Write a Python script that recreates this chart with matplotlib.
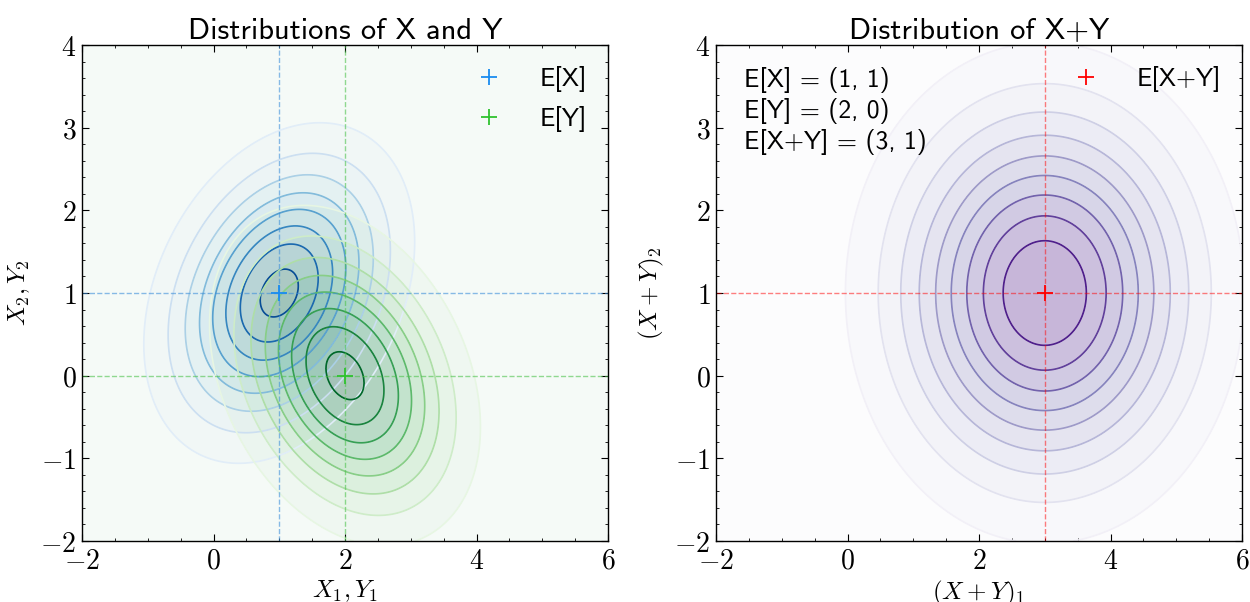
import matplotlib
matplotlib.use("Agg")
import matplotlib.pyplot as plt
import numpy as np
from matplotlib.ticker import AutoMinorLocator, FuncFormatter

# distribution parameters
MEAN_X = [1.0, 1.0]
MEAN_Y = [2.0, 0.0]
COV_X = [[1.0, 0.3], [0.3, 1.0]]
COV_Y = [[1.0, -0.3], [-0.3, 1.0]]
MEAN_SUM = [3.0, 1.0]
COV_SUM = [[2.0, 0.0], [0.0, 2.0]]

X_TICKS = [-2, 0, 2, 4, 6]
Y_TICKS = [-2, -1, 0, 1, 2, 3, 4]
MEAN_TEXT = ["E[X] = (1, 1)", "E[Y] = (2, 0)", "E[X+Y] = (3, 1)"]

plt.rcParams["mathtext.fontset"] = "cm"
SANS = "cmss10"


def gauss(xx, yy, mean, cov):
    cov = np.asarray(cov)
    inv = np.linalg.inv(cov)
    dx = xx - mean[0]
    dy = yy - mean[1]
    q = inv[0, 0] * dx**2 + 2 * inv[0, 1] * dx * dy + inv[1, 1] * dy**2
    return np.exp(-0.5 * q) / (2 * np.pi * np.sqrt(np.linalg.det(cov)))


def style_axes(ax):
    ax.set_xlim(X_TICKS[0], X_TICKS[-1])
    ax.set_ylim(Y_TICKS[0], Y_TICKS[-1])
    ax.set_xticks(X_TICKS)
    ax.set_yticks(Y_TICKS)
    fmt = FuncFormatter(lambda v, p: f"${v:g}$")
    ax.xaxis.set_major_formatter(fmt)
    ax.yaxis.set_major_formatter(fmt)
    ax.xaxis.set_minor_locator(AutoMinorLocator())
    ax.yaxis.set_minor_locator(AutoMinorLocator())
    ax.tick_params(which="both", direction="in", top=True, right=True, labelsize=20)
    ax.tick_params(which="major", length=5, width=0.8, pad=4)
    ax.tick_params(which="minor", length=2.5, width=0.6)
    for s in ax.spines.values():
        s.set_linewidth(1.0)


gx = np.linspace(-2, 6, 500)
gy = np.linspace(-2, 4, 400)
xx, yy = np.meshgrid(gx, gy)
zx = gauss(xx, yy, MEAN_X, COV_X)
zy = gauss(xx, yy, MEAN_Y, COV_Y)
zs = gauss(xx, yy, MEAN_SUM, COV_SUM)

fig = plt.figure(figsize=(12.5, 6.02), dpi=100)
ax1 = fig.add_axes([0.0656, 0.1013, 0.4208, 0.8239])
ax2 = fig.add_axes([0.5728, 0.1013, 0.4208, 0.8239])

# left panel
ax1.contourf(xx, yy, zx, levels=10, cmap="Blues", alpha=0.3)
ax1.contourf(xx, yy, zy, levels=10, cmap="Greens", alpha=0.3)
ax1.contour(xx, yy, zx, levels=10, cmap="Blues", linewidths=1.2)
ax1.contour(xx, yy, zy, levels=10, cmap="Greens", linewidths=1.2)
ax1.axvline(MEAN_X[0], color="#3d8fd9", ls="--", lw=1, alpha=0.6)
ax1.axhline(MEAN_X[1], color="#3d8fd9", ls="--", lw=1, alpha=0.6)
ax1.axvline(MEAN_Y[0], color="#4cc24c", ls="--", lw=1, alpha=0.6)
ax1.axhline(MEAN_Y[1], color="#4cc24c", ls="--", lw=1, alpha=0.6)
ax1.plot(*MEAN_X, "+", color="#1a8cf0", ms=12, mew=1.3, label="E[X]")
ax1.plot(*MEAN_Y, "+", color="#2fc22f", ms=12, mew=1.3, label="E[Y]")
ax1.legend(loc="upper right", frameon=False, prop={"family": SANS, "size": 18.5},
           handletextpad=1.0, labelspacing=0.55, borderaxespad=0.4)
ax1.set_title("Distributions of X and Y", family=SANS, fontsize=22, pad=4)
ax1.set_xlabel("$X_1, Y_1$", fontsize=18, labelpad=3)
ax1.set_ylabel("$X_2, Y_2$", fontsize=18, labelpad=6)
style_axes(ax1)

# right panel
ax2.contourf(xx, yy, zs, levels=10, cmap="Purples", alpha=0.3)
ax2.contour(xx, yy, zs, levels=10, cmap="Purples", linewidths=1.2)
ax2.axvline(MEAN_SUM[0], color="red", ls="--", lw=1, alpha=0.5)
ax2.axhline(MEAN_SUM[1], color="red", ls="--", lw=1, alpha=0.5)
ax2.plot(*MEAN_SUM, "+", color="red", ms=12, mew=1.3, label="E[X+Y]")
ax2.legend(loc="upper right", frameon=False, prop={"family": SANS, "size": 18.5},
           handletextpad=1.0, borderaxespad=0.4)
ax2.text(0.053, 0.955, "\n".join(MEAN_TEXT), transform=ax2.transAxes, va="top",
         ha="left", family=SANS, fontsize=18.5, linespacing=1.25)
ax2.set_title("Distribution of X+Y", family=SANS, fontsize=22, pad=4)
ax2.set_xlabel("$(X+Y)_1$", fontsize=18, labelpad=3)
ax2.set_ylabel("$(X+Y)_2$", fontsize=18, labelpad=6)
style_axes(ax2)

fig.savefig("out.png", dpi=100)
